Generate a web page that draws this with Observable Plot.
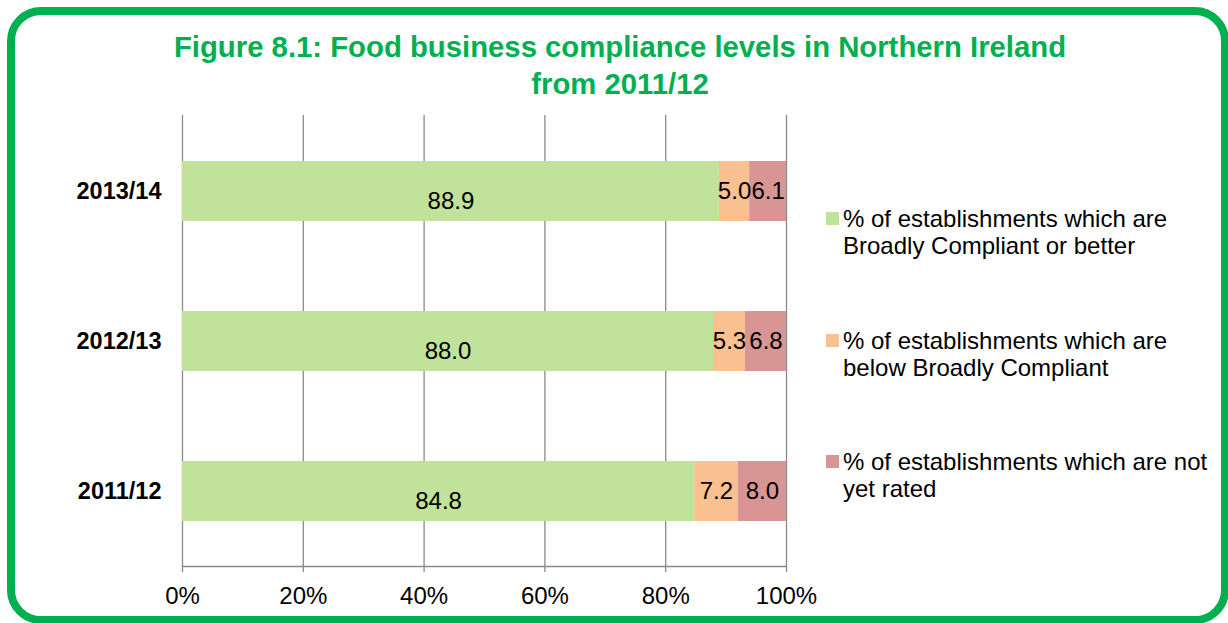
<!DOCTYPE html>
<html>
<head>
<meta charset="utf-8">
<script src="https://cdn.jsdelivr.net/npm/d3@7"></script>
<script src="https://cdn.jsdelivr.net/npm/@observablehq/plot@0.6"></script>
<style>
  html, body { margin: 0; padding: 0; background: #fff; }
  #page { position: relative; width: 1228px; height: 623px; overflow: hidden; font-family: "Liberation Sans", Arial, sans-serif; }
  #border { position: absolute; left: 7px; top: 7px; width: 1222px; height: 617px; box-sizing: border-box;
            border: 8px solid #00B050; border-radius: 34px; }
  #title { position: absolute; left: 70px; width: 1100px; top: 28px; text-align: center; color: #00B050;
           font-weight: bold; font-size: 29.3px; line-height: 37px; }
  #chart { position: absolute; left: 0; top: 0; }
  .legend-item { position: absolute; left: 826px; font-size: 24px; line-height: 27px; color: #000; }
  .legend-item .sw { position: absolute; left: 0; top: 7.5px; width: 12.5px; height: 12.5px; }
  .legend-item .lbl { position: absolute; left: 17px; top: 0; width: 390px; white-space: nowrap; }
</style>
</head>
<body>
<div id="page">
  <div id="border"></div>
  <div id="title">Figure 8.1: Food business compliance levels in Northern Ireland<br>from 2011/12</div>
  <div id="chart"></div>
  <div id="legend"></div>
</div>
<script>
const years = ["2013/14", "2012/13", "2011/12"];
const compliant = [88.9, 88.0, 84.8];
const belowCompliant = [5.0, 5.3, 7.2];
const notRated = [6.1, 6.8, 8.0];
const seriesNames = [
  "% of establishments which are Broadly Compliant or better",
  "% of establishments which are below Broadly Compliant",
  "% of establishments which are not yet rated"
];
const legendLines = [
  ["% of establishments which are", "Broadly Compliant or better"],
  ["% of establishments which are", "below Broadly Compliant"],
  ["% of establishments which are not", "yet rated"]
];
const colors = ["#C0E29A", "#FAC08F", "#D99594"];
const xTicks = [0, 0.2, 0.4, 0.6, 0.8, 1];

const seriesValues = [compliant, belowCompliant, notRated];
const rows = [];
years.forEach((y, i) => {
  seriesNames.forEach((s, j) => rows.push({year: y, series: s, value: seriesValues[j][i]}));
});

const gray = "#8a8a8a";
const font = "'Liberation Sans', Arial, sans-serif";
const stackOpts = {offset: "normalize", x: "value", y: "year", z: "series", order: seriesNames};

const chart = Plot.plot({
  width: 1228,
  height: 623,
  marginTop: 115,
  marginBottom: 57,
  marginLeft: 182,
  marginRight: 442,
  style: {fontFamily: font, background: "transparent", overflow: "visible"},
  x: {domain: [0, 1], ticks: xTicks, tickFormat: d3.format(".0%"), label: null},
  y: {domain: years, paddingInner: 0.6, paddingOuter: 0.3, label: null},
  color: {domain: seriesNames, range: colors},
  marks: [
    Plot.gridX(xTicks, {stroke: gray, strokeOpacity: 1, strokeWidth: 1.3}),
    Plot.barX(rows, Plot.stackX({...stackOpts, fill: "series"})),
    Plot.text(rows, Plot.stackX({...stackOpts,
      text: d => d.series === seriesNames[0] ? d.value.toFixed(1) : null,
      fontSize: 24, fill: "#000", dy: 10})),
    Plot.text(rows, Plot.stackX({...stackOpts,
      text: d => d.series !== seriesNames[0] ? d.value.toFixed(1) : null,
      fontSize: 24, fill: "#000", dy: 0})),
    Plot.frame({anchor: "bottom", stroke: gray, strokeWidth: 1.3}),
    Plot.axisX(xTicks, {tickSize: 6, tickPadding: 14, stroke: gray, strokeWidth: 1.3, fontSize: 24, fill: "#000", tickFormat: d3.format(".0%"), label: null}),
    Plot.axisY({tickSize: 0, tickPadding: 21, fontSize: 23.5, fontWeight: "bold", fill: "#000", label: null})
  ]
});
document.getElementById("chart").appendChild(chart);

const legend = document.getElementById("legend");
const legendTops = [204.5, 326.5, 447.5];
seriesNames.forEach((s, i) => {
  const item = document.createElement("div");
  item.className = "legend-item";
  item.style.top = legendTops[i] + "px";
  const sw = document.createElement("div");
  sw.className = "sw";
  sw.style.background = colors[i];
  const lbl = document.createElement("div");
  lbl.className = "lbl";
  lbl.innerHTML = legendLines[i].join("<br>");
  item.appendChild(sw);
  item.appendChild(lbl);
  legend.appendChild(item);
});
</script>
</body>
</html>
